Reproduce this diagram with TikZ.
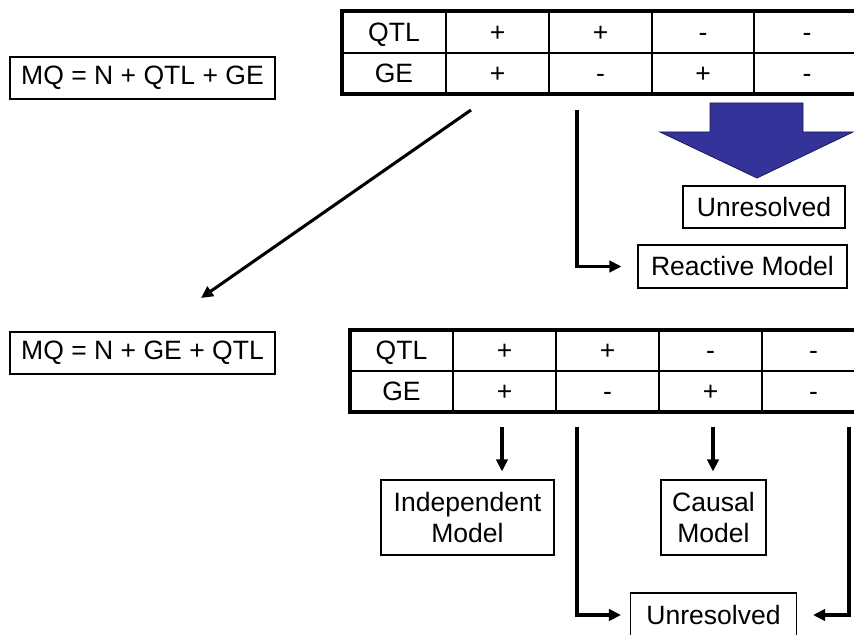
\documentclass[tikz,border=0pt]{standalone}
\usepackage{fontspec}
\setmainfont{Liberation Sans}
\usetikzlibrary{arrows.meta}
\definecolor{arrowblue}{HTML}{333399}
\definecolor{arrowedge}{HTML}{1A1A55}
\begin{document}
\begin{tikzpicture}[x=0.75pt,y=-0.75pt,
  txt/.style={font=\fontsize{19.9}{23.8}\selectfont, inner sep=0pt},
  labelbox/.style={draw, line width=0.8pt, txt, align=center},
  cell/.style={txt, text height=14.2pt, text depth=0pt},
  tablegrid/.style={line width=1.1pt},
  tableframe/.style={line width=2.4pt},
  tip/.style={-{Triangle[length=9pt,width=8.5pt]}},
  flow/.style={line width=2.3pt, tip},
]
\useasboundingbox (0,0) rectangle (854,635);
\clip (0,0) rectangle (854,635);

% ---------- equation boxes ----------
\node[labelbox, minimum width={265*0.75pt}, minimum height={42*0.75pt}] (eqA) at (142.5,78) {MQ = N + QTL + GE};
\node[labelbox, minimum width={265*0.75pt}, minimum height={42*0.75pt}] (eqB) at (142.5,353) {MQ = N + GE + QTL};

% ---------- upper sign table ----------
\foreach \x in {446,549,652,754} \draw[tablegrid] (\x,11) -- (\x,94);
\draw[tablegrid] (342,53) -- (860,53);
\draw[tableframe] (870,11) -- (342,11) -- (342,94) -- (870,94);
\node[cell] (tQ) at (394,32) {QTL};
\node[cell] (tG) at (394,73.5) {GE};
\foreach \v/\x/\n in {+/497.5/1,+/600.5/2,-/703/3,-/807/4}
  \node[cell] (tq\n) at (\x,32) {\v};
\foreach \v/\x/\n in {+/497.5/1,-/600.5/2,+/703/3,-/807/4}
  \node[cell] (tg\n) at (\x,73.5) {\v};

% ---------- lower sign table ----------
\foreach \x in {453,556,659,762} \draw[tablegrid] (\x,330) -- (\x,412);
\draw[tablegrid] (350,371) -- (860,371);
\draw[tableframe] (870,330) -- (350,330) -- (350,412) -- (870,412);
\node[cell] (bQ) at (401.5,350.5) {QTL};
\node[cell] (bG) at (401.5,391.5) {GE};
\foreach \v/\x/\n in {+/504.5/1,+/607.5/2,-/710.5/3,-/813.5/4}
  \node[cell] (bq\n) at (\x,350.5) {\v};
\foreach \v/\x/\n in {+/504.5/1,-/607.5/2,+/710.5/3,-/813.5/4}
  \node[cell] (bg\n) at (\x,391.5) {\v};

% ---------- outcome boxes ----------
\node[labelbox, minimum width={162*0.75pt}, minimum height={42*0.75pt}] (unresA) at (764,207) {Unresolved};
\node[labelbox, minimum width={209*0.75pt}, minimum height={43*0.75pt}] (reactive) at (742.5,266.5) {Reactive Model};
\node[labelbox, minimum width={173*0.75pt}, minimum height={75*0.75pt}] (indep) at (467.5,517.5) {Independent\\Model};
\node[labelbox, minimum width={105*0.75pt}, minimum height={75*0.75pt}] (causal) at (713.5,517.5) {Causal\\Model};
\node[labelbox, minimum width={166*0.75pt}, minimum height={44*0.75pt}] (unresB) at (713.5,615) {Unresolved};

% ---------- block arrow onto the upper outcome ----------
\draw[fill=arrowblue, draw=arrowedge, line width=0.6pt]
  (710,103) -- (803,103) -- (803,132) -- (853,132) -- (757,178)
  -- (660,132) -- (710,132) -- cycle;

% ---------- connector start points ----------
\coordinate (diagS) at (471,110);
\coordinate (diagE) at (201,298);
\coordinate (upS) at (577,110);
\coordinate (indS) at (502,427);
\coordinate (midS) at (577,427);
\coordinate (cauS) at (713,427);
\coordinate (rightS) at (849,427);

% ---------- connectors ----------
\draw[line width=2.3pt, tip] (diagS) -- (diagE);
\draw[flow, shorten >=16*0.75pt] (upS) |- (reactive.west);
\draw[flow, shorten >=8*0.75pt] (indS) -- (indS |- indep.north);
\draw[flow, shorten >=8*0.75pt] (cauS) -- (cauS |- causal.north);
\draw[flow, shorten >=9*0.75pt] (midS) |- (unresB.west);
\draw[flow, shorten >=16*0.75pt] (rightS) |- (unresB.east);
\end{tikzpicture}
\end{document}
